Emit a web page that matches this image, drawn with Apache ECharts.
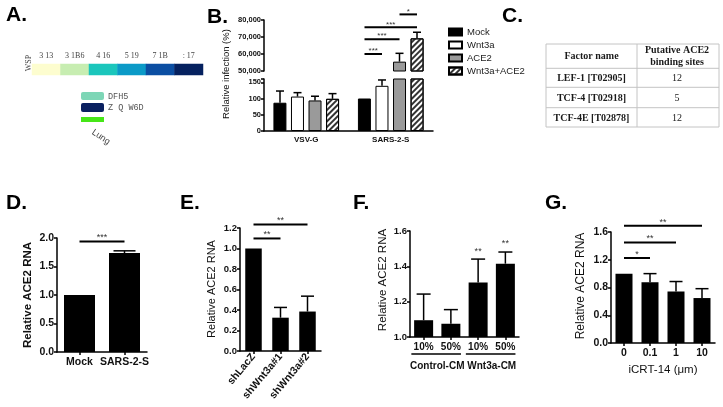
<!DOCTYPE html>
<html>
<head>
<meta charset="utf-8">
<script src="https://cdn.jsdelivr.net/npm/echarts@6/dist/echarts.min.js"></script>
<style>
html, body { margin: 0; padding: 0; background: #fff; }
#main { width: 723px; height: 407px; }
</style>
</head>
<body>
<div id="main"></div>
<script>
var SANS = '"Liberation Sans", Arial, sans-serif';
var SERIF = '"Liberation Serif", "Times New Roman", serif';
var MONO = '"Liberation Mono", "Courier New", monospace';

// A. 色阶条
var aBinLabels = ['3 13', '3 1B6', '4 16', '5 19', '7 1B', ': 17'];
var aBins = [0, 1, 2, 3, 4, 5];
var aColors = ['#fdfdcf', '#c7edb1', '#1bc6bc', '#0b9ac7', '#0b4ea2', '#05215f'];
var aLegend = ['DFH5', 'Z Q W6D'];

// B. 相对感染率
var bCategories = ['VSV-G', 'SARS-2-S'];
var bNames = ['Mock', 'Wnt3a', 'ACE2', 'Wnt3a+ACE2'];
var bValues = [[87, 100], [106, 139], [94, 55500], [99, 69200]];
var bErrors = [[36, 0], [12, 18], [13, 4900], [16, 3600]];
var bSig = [[0, 1, 60000], [0, 2, 68650], [0, 3, 75700], [2, 3, 83300]];
var bSigText = ['***', '***', '***', '*'];

// C. 表格
var cFactors = ['LEF-1 [T02905]', 'TCF-4 [T02918]', 'TCF-4E [T02878]'];
var cSites = ['12', '5', '12'];

// D
var dCategories = ['Mock', 'SARS-2-S'];
var dValues = [1.0, 1.735];
var dErrors = [0, 0.04];
var dSig = [[0, 1, 1.94]];
var dSigText = ['***'];

// E
var eCategories = ['shLacZ', 'shWnt3a#1', 'shWnt3a#2'];
var eValues = [1.0, 0.325, 0.385];
var eErrors = [0, 0.1, 0.15];
var eSig = [[0, 1, 1.098], [0, 2, 1.235]];
var eSigText = ['**', '**'];

// F
var fCategories = ['10%', '50%', '10%', '50%'];
var fGroups = ['Control-CM', 'Wnt3a-CM'];
var fValues = [1.095, 1.075, 1.308, 1.415];
var fErrors = [0.148, 0.08, 0.133, 0.066];
var fSig = [[2, 2, 1.463], [3, 3, 1.509]];
var fSigText = ['**', '**'];

// G
var gCategories = ['0', '0.1', '1', '10'];
var gValues = [1.0, 0.875, 0.743, 0.648];
var gErrors = [0, 0.125, 0.143, 0.135];
var gSig = [[0, 1, 1.225], [0, 2, 1.45], [0, 3, 1.69]];
var gSigText = ['*', '**', '**'];

var chart = echarts.init(document.getElementById('main'));

function errorShape(x, y0, y1, hw) {
	return {
		type: 'group',
		children: [
			{ type: 'line', shape: { x1: x, y1: y0, x2: x, y2: y1 }, style: { stroke: '#000', lineWidth: 1.5 } },
			{ type: 'line', shape: { x1: x - hw, y1: y1, x2: x + hw, y2: y1 }, style: { stroke: '#000', lineWidth: 1.5 } }
		]
	};
}

//误差线 (单柱)
function errorItem(hw) {
	return function (params, api) {
		var e = api.value(2);
		if (!e) return;
		var p0 = api.coord([api.value(0), api.value(1)]);
		var p1 = api.coord([api.value(0), api.value(1) + e]);
		return errorShape(p0[0], p0[1], p1[1], hw);
	};
}

//误差线 (分组柱, B)
function bErrorItem(params, api) {
	var e = api.value(3);
	if (!e) return;
	var dx = (api.value(1) - 1.5) * 17.5;
	var p0 = api.coord([api.value(0), api.value(2)]);
	var p1 = api.coord([api.value(0), api.value(2) + e]);
	return errorShape(p0[0] + dx, p0[1], p1[1], 4);
}

function sigShape(x1, x2, y, text, size) {
	var children = [];
	if (x2 > x1) {
		children.push({ type: 'line', shape: { x1: x1, y1: y, x2: x2, y2: y }, style: { stroke: '#000', lineWidth: 2 } });
	}
	children.push({
		type: 'text', x: (x1 + x2) / 2, y: y + 1,
		style: { text: text, fill: '#333', font: size + 'px ' + SANS, align: 'center', verticalAlign: 'bottom' }
	});
	return { type: 'group', children: children };
}

function sigItem(texts) {
	return function (params, api) {
		var p1 = api.coord([api.value(0), api.value(2)]);
		var p2 = api.coord([api.value(1), api.value(2)]);
		return sigShape(p1[0], p2[0], p1[1], texts[params.dataIndex], 9);
	};
}

function bSigItem(params, api) {
	var p = api.coord([1, api.value(2)]);
	var x1 = p[0] + (api.value(0) - 1.5) * 17.5;
	var x2 = p[0] + (api.value(1) - 1.5) * 17.5;
	return sigShape(x1, x2, p[1], bSigText[params.dataIndex], 8);
}

//F 分组下划线
function groupLineItem(params, api) {
	var band = api.size([1, 0])[0];
	var a = api.coord([api.value(0), 1.0]);
	var b = api.coord([api.value(1), 1.0]);
	var y = a[1] + 17;
	return {
		type: 'line',
		shape: { x1: a[0] - band * 0.45, y1: y, x2: b[0] + band * 0.37, y2: y },
		style: { stroke: '#000', lineWidth: 1.5 }
	};
}

function valueAxis(grid, min, max, interval, size, fmt) {
	return {
		type: 'value', gridIndex: grid, min: min, max: max, interval: interval,
		axisLine: { show: true, lineStyle: { color: '#000', width: 1.5 } },
		axisTick: { show: true, length: 3, lineStyle: { color: '#000', width: 1.5 } },
		splitLine: { show: false },
		axisLabel: { formatter: fmt, color: '#111', fontSize: size, fontWeight: 'bold', fontFamily: SANS, margin: 3 }
	};
}

function catAxis(grid, data, size, extra) {
	var ax = {
		type: 'category', gridIndex: grid, data: data,
		axisLine: { show: true, lineStyle: { color: '#000', width: 1.5 } },
		axisTick: { show: true, alignWithLabel: true, length: 3, lineStyle: { color: '#000', width: 1.5 } },
		axisLabel: { color: '#111', fontSize: size, fontWeight: 'bold', fontFamily: SANS, margin: 5, interval: 0 }
	};
	for (var k in extra) ax[k] = extra[k];
	return ax;
}

function fix1(v) { return v.toFixed(1); }

function pair(cats, vals, errs) {
	return cats.map(function (c, i) { return [i, vals[i], errs[i]]; });
}

function blackBar(x, y, vals, width) {
	return {
		type: 'bar', xAxisIndex: x, yAxisIndex: y, data: vals, barWidth: width,
		itemStyle: { color: '#000' }, silent: true
	};
}

var bStyles = [
	{ color: '#000', borderColor: '#000', borderWidth: 1 },
	{ color: '#fff', borderColor: '#000', borderWidth: 1 },
	{ color: '#9a9a9a', borderColor: '#000', borderWidth: 1 },
	{
		color: '#fff', borderColor: '#000', borderWidth: 1,
		decal: { symbol: 'rect', symbolSize: 1, dashArrayX: [1, 0], dashArrayY: [1.5, 1.5], rotation: -Math.PI / 4, color: '#333' }
	}
];

var series = [];

// A
series.push({
	type: 'heatmap', xAxisIndex: 0, yAxisIndex: 0,
	data: aBins.map(function (v, i) { return [i, 0, v]; }),
	itemStyle: { borderWidth: 0 }, silent: true
});

// B 上下两段
[1, 2].forEach(function (g) {
	bNames.forEach(function (name, i) {
		series.push({
			type: 'bar', name: name, xAxisIndex: g, yAxisIndex: g,
			data: bValues[i].map(function (v) { return (g === 1 && v < 50000) ? '-' : v; }),
			barWidth: 13, barGap: '35%', itemStyle: bStyles[i], silent: true
		});
	});
});
var bErrData = [];
bNames.forEach(function (name, i) {
	bCategories.forEach(function (c, j) { bErrData.push([j, i, bValues[i][j], bErrors[i][j]]); });
});
[1, 2].forEach(function (g) {
	series.push({
		type: 'custom', xAxisIndex: g, yAxisIndex: g, clip: true, z: 3,
		encode: { x: 0, y: 2 }, data: bErrData, renderItem: bErrorItem, silent: true
	});
});
series.push({
	type: 'custom', xAxisIndex: 1, yAxisIndex: 1, clip: false, z: 3,
	encode: { x: 0, y: 2 }, data: bSig, renderItem: bSigItem, silent: true
});

// D E F G
var panels = [
	{ g: 3, x: 3, cats: dCategories, vals: dValues, errs: dErrors, sig: dSig, sigText: dSigText, bw: 31, hw: 11 },
	{ g: 4, x: 4, cats: eCategories, vals: eValues, errs: eErrors, sig: eSig, sigText: eSigText, bw: 16.5, hw: 6.5 },
	{ g: 5, x: 5, cats: fCategories, vals: fValues, errs: fErrors, sig: fSig, sigText: fSigText, bw: 19, hw: 7 },
	{ g: 6, x: 7, cats: gCategories, vals: gValues, errs: gErrors, sig: gSig, sigText: gSigText, bw: 17, hw: 6.5 }
];
panels.forEach(function (p) {
	series.push(blackBar(p.x, p.g, p.vals, p.bw));
	series.push({
		type: 'custom', xAxisIndex: p.x, yAxisIndex: p.g, z: 3, encode: { x: 0, y: 1 },
		data: pair(p.cats, p.vals, p.errs), renderItem: errorItem(p.hw), silent: true
	});
	series.push({
		type: 'custom', xAxisIndex: p.x, yAxisIndex: p.g, z: 3, clip: false, encode: { x: 0, y: 2 },
		data: p.sig, renderItem: sigItem(p.sigText), silent: true
	});
});
series.push({
	type: 'custom', xAxisIndex: 5, yAxisIndex: 5, clip: false, z: 3, encode: { x: 0, y: 1 },
	data: [[0, 1], [2, 3]], renderItem: groupLineItem, silent: true
});

function panelLabel(t, x, y) {
	return { type: 'text', left: x, top: y, style: { text: t, font: 'bold 21px ' + SANS, fill: '#000' } };
}

function yTitle(t, cx, cy, size, weight) {
	return {
		type: 'text', x: cx, y: cy, rotation: Math.PI / 2,
		style: { text: t, font: weight + ' ' + size + 'px ' + SANS, fill: '#111', align: 'center', verticalAlign: 'middle' }
	};
}

// C 表格
var tableEls = [];
var tx = 546, tw = 173, colX = 637;
var rowY = [44, 68.3, 87.3, 107.7, 127];
tableEls.push({ type: 'rect', shape: { x: tx, y: rowY[0], width: tw, height: rowY[4] - rowY[0] }, style: { fill: 'none', stroke: '#c4c4c4', lineWidth: 1 } });
tableEls.push({ type: 'line', shape: { x1: colX, y1: rowY[0], x2: colX, y2: rowY[4] }, style: { stroke: '#c4c4c4', lineWidth: 1 } });
for (var r = 1; r < 4; r++) {
	tableEls.push({ type: 'line', shape: { x1: tx, y1: rowY[r], x2: tx + tw, y2: rowY[r] }, style: { stroke: '#c4c4c4', lineWidth: 1 } });
}
tableEls.push({ type: 'text', x: 591.5, y: 56.5, style: { text: 'Factor name', font: 'bold 10px ' + SERIF, fill: '#1a1a1a', align: 'center', verticalAlign: 'middle' } });
tableEls.push({ type: 'text', x: 677, y: 56.5, style: { text: 'Putative ACE2\nbinding sites', font: 'bold 10px ' + SERIF, lineHeight: 11.5, fill: '#1a1a1a', align: 'center', verticalAlign: 'middle' } });
cFactors.forEach(function (f, i) {
	var cy = (rowY[i + 1] + rowY[i + 2]) / 2 + 1;
	tableEls.push({ type: 'text', x: 591.5, y: cy, style: { text: f, font: 'bold 10px ' + SERIF, fill: '#1a1a1a', align: 'center', verticalAlign: 'middle' } });
	tableEls.push({ type: 'text', x: 677, y: cy, style: { text: cSites[i], font: '10px ' + SERIF, fill: '#1a1a1a', align: 'center', verticalAlign: 'middle' } });
});

var graphics = [
	panelLabel('A.', 6, 5), panelLabel('B.', 207, 7), panelLabel('C.', 502, 6),
	panelLabel('D.', 6, 193), panelLabel('E.', 180, 193), panelLabel('F.', 353, 193), panelLabel('G.', 545, 193),
	// A 图例
	{ type: 'text', x: 28.5, y: 63, rotation: Math.PI / 2, style: { text: 'WSP', font: '8px ' + SERIF, fill: '#444', align: 'center', verticalAlign: 'middle' } },
	{ type: 'rect', shape: { x: 81, y: 92, width: 23, height: 8, r: 2 }, style: { fill: '#7dd6b6' } },
	{ type: 'text', x: 108, y: 96.5, style: { text: aLegend[0], font: '8.5px ' + MONO, fill: '#555', verticalAlign: 'middle' } },
	{ type: 'rect', shape: { x: 81, y: 103, width: 23, height: 9, r: 2 }, style: { fill: '#0a2060' } },
	{ type: 'text', x: 108, y: 108, style: { text: aLegend[1], font: '8.5px ' + MONO, fill: '#555', verticalAlign: 'middle' } },
	{ type: 'rect', shape: { x: 81, y: 117, width: 23, height: 5 }, style: { fill: '#46e617' } },
	{ type: 'text', x: 101, y: 137, rotation: -0.6, style: { text: 'Lung', font: '9px ' + SANS, fill: '#444', align: 'center', verticalAlign: 'middle' } },
	// y轴标题
	yTitle('Relative infection (%)', 226, 74, 9.5, 'normal'),
	yTitle('Relative ACE2 RNA', 28, 295, 11.5, 'bold'),
	yTitle('Relative ACE2 RNA', 212, 289, 11, 'normal'),
	yTitle('Relative ACE2 RNA', 383, 280, 11.5, 'normal'),
	yTitle('Relative ACE2 RNA', 581, 286, 12, 'normal'),
	{ type: 'group', children: tableEls }
];

var option = {
	animation: false,
	backgroundColor: '#fff',
	textStyle: { fontFamily: SANS },
	grid: [
		{ left: 32, top: 64, width: 171, height: 11 },
		{ left: 264, top: 20, width: 169, height: 51 },
		{ left: 264, top: 79, width: 169, height: 52 },
		{ left: 57, top: 238, width: 90, height: 114 },
		{ left: 240, top: 228, width: 81, height: 123 },
		{ left: 410, top: 231, width: 109, height: 106 },
		{ left: 611, top: 232, width: 104, height: 111 }
	],
	visualMap: { show: false, seriesIndex: 0, min: 0, max: 5, inRange: { color: aColors } },
	legend: {
		data: bNames, orient: 'vertical', left: 443, top: 22, icon: 'rect',
		itemWidth: 13, itemHeight: 7, itemGap: 3, selectedMode: false,
		textStyle: { fontSize: 9.5, color: '#222', fontFamily: SANS }
	},
	xAxis: [
		{
			type: 'category', gridIndex: 0, position: 'top', data: aBinLabels,
			axisLine: { show: false }, axisTick: { show: false },
			axisLabel: { color: '#444', fontSize: 8, fontFamily: SERIF, margin: 4 }
		},
		{ type: 'category', gridIndex: 1, data: bCategories, show: false },
		catAxis(2, bCategories, 8, { axisTick: { show: false } }),
		catAxis(3, dCategories, 10.5, {}),
		catAxis(4, eCategories, 10.5, {}),
		catAxis(5, fCategories, 10, {}),
		{
			type: 'category', gridIndex: 5, data: fGroups, position: 'bottom', offset: 18,
			axisLine: { show: false }, axisTick: { show: false },
			axisLabel: { color: '#111', fontSize: 10, fontWeight: 'bold', fontFamily: SANS, margin: 6, interval: 0, hideOverlap: false }
		},
		catAxis(6, gCategories, 10.5, {
			name: 'iCRT-14 (μm)', nameLocation: 'middle', nameGap: 21,
			nameTextStyle: { fontSize: 11.5, color: '#111', fontFamily: SANS }
		})
	],
	yAxis: [
		{ type: 'category', gridIndex: 0, data: ['WSP'], show: false },
		valueAxis(1, 50000, 80000, 10000, 7.5, function (v) { return String(v).replace(/\B(?=(\d{3})+(?!\d))/g, ','); }),
		valueAxis(2, 0, 160, 50, 7.5, function (v) { return v % 50 === 0 ? String(v) : ''; }),
		valueAxis(3, 0, 2, 0.5, 10.5, fix1),
		valueAxis(4, 0, 1.2, 0.2, 9.5, fix1),
		valueAxis(5, 1.0, 1.6, 0.2, 9.5, fix1),
		valueAxis(6, 0, 1.6, 0.4, 10.5, fix1)
	],
	graphic: graphics,
	series: series
};

// E 标签旋转
option.xAxis[4].axisLabel.rotate = 50;
option.xAxis[4].axisLabel.margin = 4;

chart.setOption(option);
window.addEventListener('resize', function () {
	chart.resize();
});
</script>
</body>
</html>
